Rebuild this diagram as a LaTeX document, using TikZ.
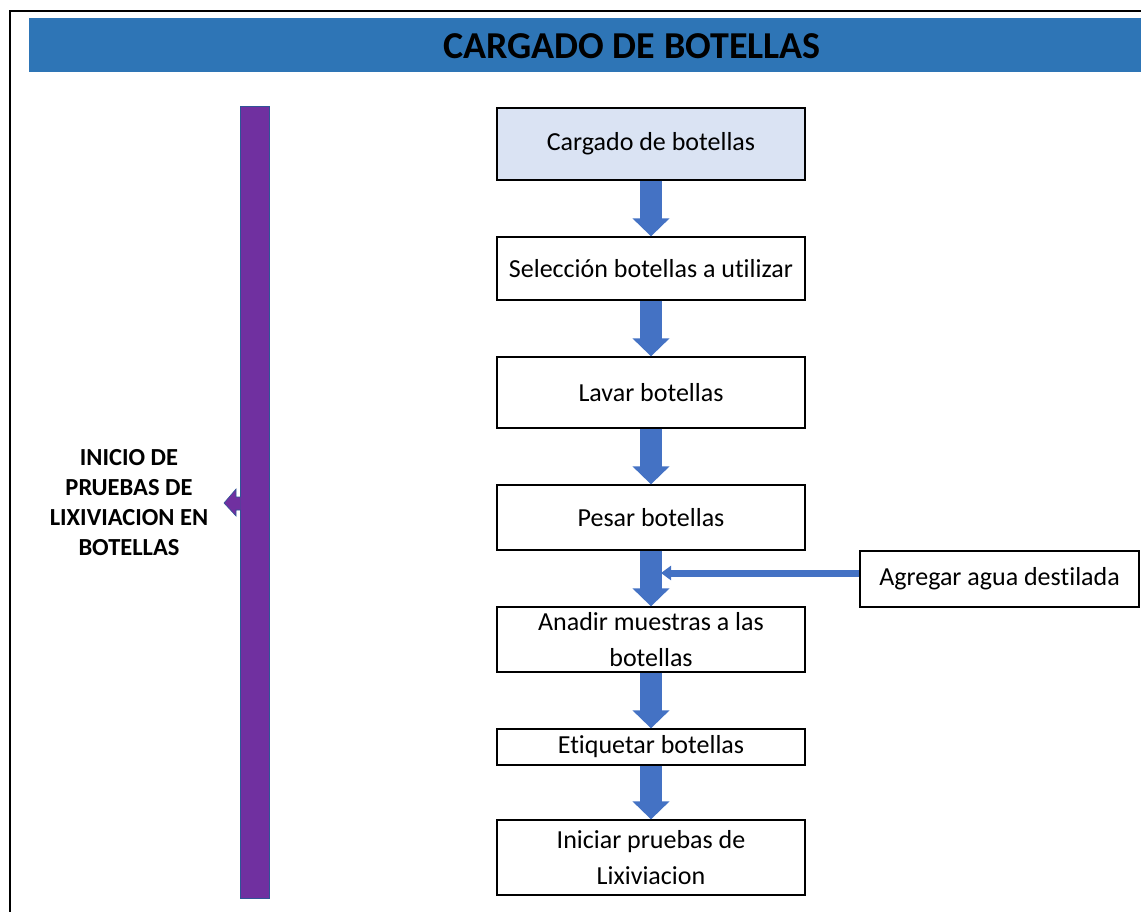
\documentclass[tikz,border=0pt]{standalone}
\usepackage{fontspec}
\setmainfont{Carlito}[Ligatures=NoCommon]
\usetikzlibrary{arrows.meta}
\definecolor{titleblue}{RGB}{46,117,182}
\definecolor{arrowblue}{RGB}{68,114,196}
\definecolor{arrowedge}{RGB}{47,85,151}
\definecolor{barpurple}{RGB}{112,48,160}
\definecolor{boxfill}{RGB}{218,227,243}
\tikzset{
  stepbox/.style={draw=black, line width=1.3pt, minimum width=308pt, align=center, font=\fontsize{26}{36}\selectfont, inner sep=0pt},
  blockarrow/.style={arrowblue, line width=22pt, -{Triangle[width=36pt,length=18pt]}},
  sidearrow/.style={arrowblue, line width=7pt, -{Triangle[width=14pt,length=10pt]}},
}
\begin{document}
\begin{tikzpicture}[x=1pt,y=-1pt]
\useasboundingbox (0,0) rectangle (1141,911);
\fill[white] (0,0) rectangle (1141,911);
% outer frame
\draw[line width=2pt] (9.5,930) -- (9.5,11) -- (1160,11);
% title bar
\node[fill=titleblue, minimum width=1130pt, minimum height=54pt, inner sep=0pt, anchor=north west] (titlebar) at (29,18) {};
\node[font=\fontsize{38}{40}\selectfont\bfseries] (title) at (632,46) {CARGADO DE BOTELLAS};
% purple bar
\node[fill=barpurple, draw=arrowedge, line width=0.6pt, minimum width=29pt, minimum height=792pt, inner sep=0pt, anchor=north west] (bar) at (240,106) {};
\fill[barpurple, draw=arrowedge, line width=0.6pt] (240.5,497) -- (236,497) -- (236,489) -- (224,503) -- (236,516) -- (236,510) -- (240.5,510);
\node[font=\fontsize{24.5}{30}\selectfont\bfseries, align=center] (inicio) at (129,503) {INICIO DE\\PRUEBAS DE\\LIXIVIACION EN\\BOTELLAS};
% boxes
\node[stepbox, fill=boxfill, minimum height=72pt] (b1) at (651,144) {Cargado de botellas};
\node[stepbox, minimum height=63pt] (b2) at (651,268.5) {Selección botellas a utilizar};
\node[stepbox, minimum height=71pt] (b3) at (651,392.5) {Lavar botellas};
\node[stepbox, minimum height=65pt] (b4) at (651,517.5) {Pesar botellas};
\node[stepbox, minimum height=65pt] (b5) at (651,639.5) {Anadir muestras a las\\botellas};
\node[stepbox, minimum height=36pt] (b6) at (651,747) {Etiquetar botellas};
\node[stepbox, minimum height=75pt] (b7) at (651,857.5) {Iniciar pruebas de\\Lixiviacion};
\node[draw=black, line width=1.3pt, minimum width=279pt, minimum height=56pt, inner sep=0pt, font=\fontsize{26}{36}\selectfont] (side) at (999.5,579) {Agregar agua destilada};
% arrows
\draw[blockarrow] (b1.south) -- (b2.north);
\draw[blockarrow] (b2.south) -- (b3.north);
\draw[blockarrow] (b3.south) -- (b4.north);
\draw[blockarrow] (b4.south) -- (b5.north);
\draw[blockarrow] (b5.south) -- (b6.north);
\draw[blockarrow] (b6.south) -- (b7.north);
\coordinate (join) at (661,573);
\draw[sidearrow] (side.west |- join) -- (join);
\end{tikzpicture}
\end{document}
